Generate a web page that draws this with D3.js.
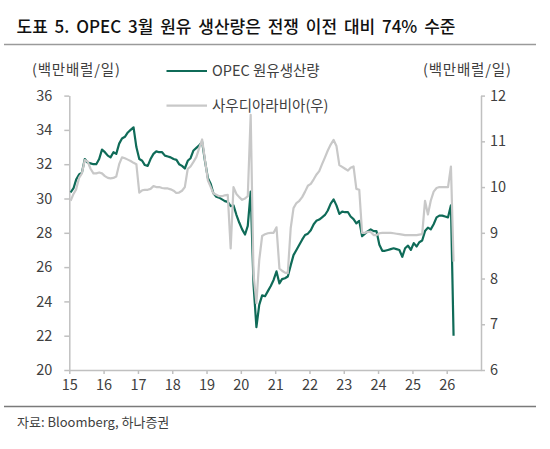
<!DOCTYPE html>
<html>
<head>
<meta charset="utf-8">
<script src="https://cdn.jsdelivr.net/npm/d3@7"></script>
<style>
  body { margin: 0; background: #fff; }
  svg text { font-family: 'Noto Sans CJK KR', 'Noto Sans', sans-serif; }
</style>
</head>
<body>
<svg id="chart" width="550" height="449"></svg>
<script>
// monthly data, Jan 2015 .. Mar 2026 (mb/d)
const startMonth = new Date(2015, 0, 15)
const opec = [
  30.35, 30.6, 31.1, 31.4, 31.5, 32.3, 32.1, 32.05, 32.0, 32.0, 32.3, 32.85,
  32.7, 32.5, 32.4, 32.7, 32.6, 33.2, 33.5, 33.6, 33.85, 34.0, 34.15, 33.0,
  32.3, 32.2, 31.95, 31.9, 32.3, 32.6, 32.75, 32.7, 32.7, 32.5, 32.45, 32.4,
  32.3, 32.25, 32.0, 31.9, 31.75, 32.2, 32.35, 32.8, 32.95, 33.1, 33.3, 32.2,
  31.2, 30.85, 30.3, 30.1, 30.05, 29.95, 29.85, 29.8, 29.55, 29.6, 29.05, 28.6,
  28.2, 27.9, 28.4, 30.4, 25.0, 22.5, 23.8, 24.35, 24.3, 24.6, 24.9, 25.25,
  25.75, 25.05, 25.3, 25.35, 25.45, 26.1, 26.7, 27.0, 27.3, 27.6, 27.87, 27.95,
  28.15, 28.5, 28.7, 28.77, 28.9, 29.04, 29.3, 29.7, 29.95, 29.6, 29.1, 29.23,
  29.2, 29.2, 28.95, 28.8, 28.55, 28.7, 27.8, 27.95, 28.1, 28.2, 28.1, 28.1,
  27.3, 26.95, 26.95, 27.0, 27.05, 27.1, 27.05, 27.0, 26.6, 27.1, 27.25, 27.0,
  27.4, 27.2, 27.45, 27.55, 28.1, 28.3, 28.2, 28.5, 28.9, 29.0, 29.0, 28.95,
  28.9, 29.6, 22.0
]
const saudi = [
  9.7, 9.85, 9.95, 10.2, 10.3, 10.59, 10.56, 10.4, 10.3, 10.3, 10.32, 10.3,
  10.24, 10.2, 10.19, 10.2, 10.23, 10.5, 10.65, 10.63, 10.6, 10.57, 10.53, 10.5,
  9.88, 9.93, 9.94, 9.94, 9.96, 10.02, 10.0, 10.0, 9.98, 9.97, 9.97, 9.95,
  9.92, 9.87, 9.88, 9.92, 10.0, 10.4, 10.45, 10.55, 10.66, 10.85, 11.04, 10.6,
  10.15, 10.0, 9.86, 9.83, 9.8, 9.8, 9.82, 9.83, 8.66, 10.0, 9.85, 9.78,
  9.72, 9.75, 9.8, 11.58, 8.1, 7.46, 8.4, 8.93, 8.97, 8.99, 9.0, 9.0,
  9.12, 8.22, 8.17, 8.13, 8.12, 9.1, 9.54, 9.65, 9.7, 9.78, 9.9, 10.03,
  10.07, 10.17, 10.27, 10.35, 10.5, 10.65, 10.8, 10.93, 11.03, 10.9, 10.48, 10.44,
  10.4, 10.36, 10.42, 10.45, 9.96, 9.94, 9.0, 9.0, 9.02, 9.02, 8.95, 8.95,
  8.99, 9.0, 9.0, 9.0, 9.0, 8.99, 8.98, 8.97, 8.96, 8.95, 8.95, 8.95,
  8.95, 8.95, 8.96, 8.97, 9.7, 9.4, 9.7, 9.9, 9.98, 10.0, 10.0, 10.0,
  10.0, 10.45, 8.37
]
const yearTicks = [2015, 2016, 2017, 2018, 2019, 2020, 2021, 2022, 2023, 2024, 2025, 2026]
const leftTicks = [20, 22, 24, 26, 28, 30, 32, 34, 36]
const rightTicks = [6, 7, 8, 9, 10, 11, 12]

const title = '도표 5. OPEC 3월 원유 생산량은 전쟁 이전 대비 74% 수준'
const unitLabel = '(백만배럴/일)'
const seriesNames = ['OPEC 원유생산량', '사우디아라비아(우)']
const source = '자료: Bloomberg, 하나증권'

const green = '#0f6b58'
const grey = '#c8c8c8'
const axisCol = '#c0c0c0'
const textCol = '#404040'

const svg = d3.select('#chart')

const x = d3.scaleTime()
  .domain([new Date(2015, 0, 1), new Date(2027, 0, 1)])
  .range([69.3, 481])
const yL = d3.scaleLinear().domain([20, 36]).range([370, 95.6])
const yR = d3.scaleLinear().domain([6, 12]).range([370, 95.6])

const rows = opec.map((v, i) => ({
  date: d3.timeMonth.offset(startMonth, i),
  opec: v,
  saudi: saudi[i]
}))

// title + rules
svg.append('text')
  .attr('x', 16.5).attr('y', 32.5)
  .attr('font-size', 17).attr('font-weight', 500)
  .attr('word-spacing', 3)
  .attr('fill', '#111')
  .text(title)
svg.append('line')
  .attr('x1', 4).attr('x2', 536).attr('y1', 44.5).attr('y2', 44.5)
  .attr('stroke', '#9a9a9a').attr('stroke-width', 1.5)
svg.append('line')
  .attr('x1', 4).attr('x2', 536).attr('y1', 406.5).attr('y2', 406.5)
  .attr('stroke', '#7a7a7a').attr('stroke-width', 1.5)
svg.append('text')
  .attr('x', 17).attr('y', 427)
  .attr('font-size', 13).attr('fill', textCol)
  .text(source)

// unit labels
svg.append('text').attr('x', 32).attr('y', 75)
  .attr('font-size', 14.5).attr('letter-spacing', 0.8)
  .attr('fill', textCol).text(unitLabel)
svg.append('text').attr('x', 423).attr('y', 75)
  .attr('font-size', 14.5).attr('letter-spacing', 0.8)
  .attr('fill', textCol).text(unitLabel)

// axes
function styleAxis(g) {
  g.select('.domain').attr('stroke', axisCol).attr('stroke-width', 1.5)
  g.selectAll('.tick line').attr('stroke', axisCol).attr('stroke-width', 1.5)
  g.selectAll('.tick text')
    .attr('fill', textCol).attr('font-size', 14.5)
    .attr('font-family', "'Noto Sans CJK KR', 'Noto Sans', sans-serif")
}

svg.append('g')
  .attr('transform', 'translate(0,370)')
  .call(d3.axisBottom(x)
    .tickValues(yearTicks.map(yr => new Date(yr, 0, 1)))
    .tickFormat(d => String(d.getFullYear()).slice(2))
    .tickSizeInner(4).tickSizeOuter(0).tickPadding(6))
  .call(styleAxis)

svg.append('g')
  .attr('transform', 'translate(69.3,0)')
  .call(d3.axisLeft(yL).tickValues(leftTicks)
    .tickFormat(d3.format('d'))
    .tickSizeInner(5).tickSizeOuter(0).tickPadding(12))
  .call(styleAxis)

svg.append('g')
  .attr('transform', 'translate(481,0)')
  .call(d3.axisRight(yR).tickValues(rightTicks)
    .tickFormat(d3.format('d'))
    .tickSizeInner(4).tickSizeOuter(0).tickPadding(5))
  .call(styleAxis)

// series
const lineL = d3.line().x(d => x(d.date)).y(d => yL(d.opec))
const lineR = d3.line().x(d => x(d.date)).y(d => yR(d.saudi))

svg.append('path').datum(rows)
  .attr('d', lineL)
  .attr('fill', 'none').attr('stroke', green)
  .attr('stroke-width', 2.2).attr('stroke-linejoin', 'round')

svg.append('path').datum(rows)
  .attr('d', lineR)
  .attr('fill', 'none').attr('stroke', grey)
  .attr('stroke-width', 2.2).attr('stroke-linejoin', 'round')

// legend
const legend = svg.append('g')
const legendColors = [green, grey]
const legendY = [71, 105.7]
seriesNames.forEach((name, i) => {
  legend.append('line')
    .attr('x1', 166.5).attr('x2', 207)
    .attr('y1', legendY[i]).attr('y2', legendY[i])
    .attr('stroke', legendColors[i]).attr('stroke-width', 2.2)
  legend.append('text')
    .attr('x', 212).attr('y', legendY[i] + 5)
    .attr('font-size', 14.5).attr('fill', textCol)
    .text(name)
})
</script>
</body>
</html>
